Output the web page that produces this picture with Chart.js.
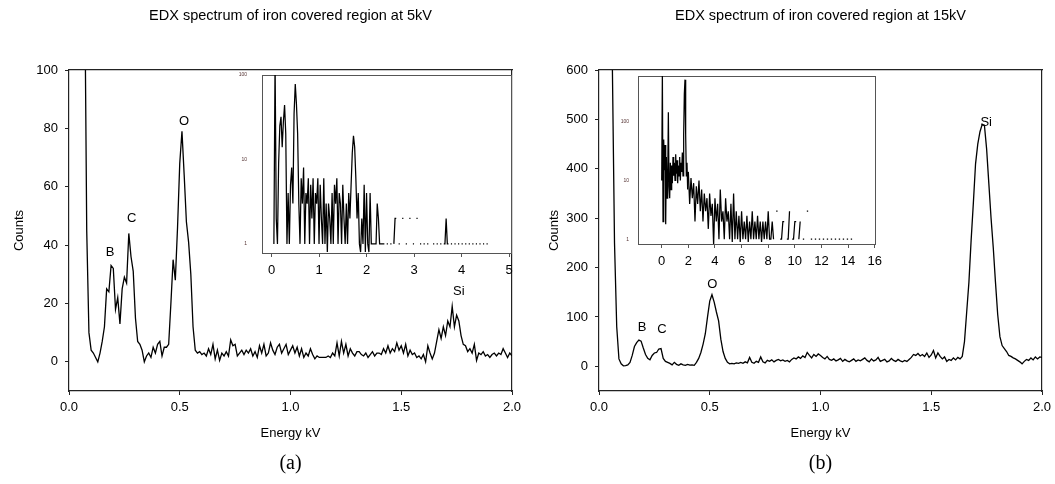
<!DOCTYPE html>
<html>
<head>
<meta charset="utf-8">
<script src="https://cdn.jsdelivr.net/npm/chart.js@4.4.1/dist/chart.umd.min.js"></script>
<style>
  html, body { margin: 0; padding: 0; background: #fff; width: 1055px; height: 484px; overflow: hidden; }
  canvas { position: absolute; }
</style>
</head>
<body>
<canvas id="mainA" width="581" height="484" style="left:0;top:0"></canvas>
<canvas id="mainB" width="581" height="484" style="left:530px;top:0"></canvas>
<canvas id="insetA" width="300" height="215" style="left:225px;top:70px"></canvas>
<canvas id="insetB" width="294" height="205" style="left:596px;top:70px"></canvas>
<script>
// energy grid of the main spectra (keV)
var mainStep = 0.01

// counts, 5 kV, 0.00 .. 2.00 keV
var countsA = [
  950, 900, 820, 700, 560, 420, 300, 140, 45, 10,
  4, 3, 1.5, 0, 3, 7, 12, 25, 24, 33,
  32, 18, 22, 13, 25, 29, 27, 44, 36, 31,
  15, 7, 6, 4, 0, 2, 3, 1.5, 5, 3,
  6, 7, 2, 5, 5, 6, 20, 35, 28, 46,
  68, 79, 64, 48, 41, 30, 12, 4, 3, 3.5,
  2.5, 3, 2, 4.5, 2.5, 6, 1, 4, 0.5, 3,
  2, 3.5, 2, 7.5, 5.5, 6, 2, 3, 4, 2.5,
  4, 3, 4.5, 2, 3.5, 1.5, 5.5, 3, 6, 2,
  3, 6.5, 4, 2.5, 5, 6, 3, 4.5, 6, 2.5,
  4, 5.5, 3, 5, 2, 4.5, 1.5, 3, 2, 4.5,
  2.5, 1, 2, 1.5, 1.5, 1.5, 1.5, 2, 1.5, 3,
  2, 6.5, 2, 7, 3, 6, 2, 4.5, 3, 2,
  3.5, 3.5, 2.5, 2, 3, 1.5, 2.5, 3.5, 2, 3,
  3, 2.5, 4.5, 3, 5.5, 3, 4.5, 3.5, 6.5, 4,
  5.5, 3, 6, 2, 4, 2.5, 3, 1.5, 2, 1,
  2.5, 0, 5.5, 3, 1, 3, 7, 11, 8, 12,
  9, 14, 12, 19, 12, 16, 14, 9, 6, 5.5,
  3.5, 4.5, 3, 6, 0.5, 3, 2.5, 3.5, 2, 2.5,
  1.5, 2.5, 3, 2, 3, 2.5, 4.5, 3, 1.5, 3, 2
]

// counts, 15 kV, 0.00 .. 2.00 keV
var countsB = [
  3000, 2800, 2500, 2100, 1600, 1100, 620, 250, 80, 15,
  5, 1, 1.5, 3, 8, 22, 40, 48, 53, 51,
  37, 24, 16, 13, 22, 27, 28, 35, 36, 16,
  10, 8, 6, 3, 8, 4, 2, 5, 3, 2,
  4, 2.5, 3, 2, 8, 16, 28, 45, 66, 100,
  132, 145, 130, 110, 92, 55, 30, 16, 8, 5,
  6, 5, 7, 6, 8, 6, 9, 7, 18, 8,
  6, 10, 8, 19, 9, 7, 12, 10, 13, 9,
  12, 14, 11, 13, 10, 12, 9, 14, 17, 15,
  19, 16, 21, 18, 28, 22, 17, 24, 20, 25,
  22, 18, 15, 20, 14, 12, 15, 11, 13, 16,
  10, 14, 11, 9, 12, 15, 10, 13, 11, 14,
  17, 12, 9, 15, 11, 13, 18, 10, 12, 14,
  9, 11, 16, 12, 10, 14, 11, 9, 12, 10,
  14, 18, 24, 22, 26, 21, 24, 20, 27, 18,
  23, 32, 17, 27, 20, 15, 19, 10, 14, 12,
  17, 13, 18, 15, 20, 50, 110, 170, 255, 330,
  410, 450, 475, 490, 488, 440, 370, 300, 240, 170,
  105, 60, 42, 36, 30, 22, 20, 17, 15, 12,
  9, 5, 10, 14, 12, 17, 13, 19, 15, 19, 18
]

// inset 5 kV, log counts, 0 .. 4.6 keV step 0.025 (null = no counts)
var insetStepA = 0.025
var insetCountsA = [
  null, null, 1, 150, 2, 1, 9, 25, 32, 14,
  28, 44, 20, 1, 4, 1, 5, 8, 3, 35,
  78, 45, 20, 3, 1, 6, 3, 8, 1, 4,
  3, 6, 1, 5, 2, 6, 1, 4, 3, 6,
  1, 5, 2, 1, 6, 1, 3, 0.8, 3, 2,
  1, 4, 1, 5, 3, 6, 1, 4, 3, 1,
  5, 2, 1, 3, 1, 4, 2, 5, 12, 19,
  14, 6, 2, 4, 1, 0.8, 2, 1, 5, 0.8,
  4, 1, 0.8, 4, 1, 1, 1, 1, 1, 3,
  2, 1, 1, 1, 1, 1, null, 1, 1, null,
  1, 1, null, 1, 2, 2, null, 1, 1, null,
  2, 2, null, 1, 1, null, 2, 2, null, 1,
  1, null, 2, 2, null, 1, 1, null, 1, 1,
  null, 1, 1, null, 1, null, 1, 1, null, 1,
  1, null, 1, 1, null, 1, 1, 2, 1, 1,
  null, 1, 1, null, 1, 1, null, 1, 1, null,
  1, 1, null, 1, 1, null, 1, 1, null, 1,
  1, null, 1, 1, null, 1, 1, null, 1, 1,
  null, 1, 1, null, 1
]

// inset 15 kV, 0 .. 2 keV step 0.05, then 2 .. 14.4 keV step 0.1
var insetStepB1 = 0.05
var insetCountsB1 = [
  10, 700, 2, 50, 15, 40, 1.8, 25, 5, 9,
  145, 8, 5, 20, 7, 18, 9, 25, 12, 20,
  10, 28, 13, 22, 9, 18, 12, 25, 10, 20,
  14, 30, 12, 60, 300, 520, 60, 12, 20, 7,
  14
]
var insetStartB2 = 2.0
var insetStepB2 = 0.1
var insetCountsB2 = [
  14, 4, 11, 5, 9, 2, 8, 4, 10, 3,
  7, 2, 6, 3, 5, 1.5, 6, 2.5, 4, 0.8,
  5, 2, 4, 1, 7, 2, 3, 1, 5, 2,
  3, 1, 4, 0.9, 6, 1, 3, 1, 2.5, 0.9,
  3, 1, 2, 1, 2.5, 0.9, 2, 1, 3, 1,
  2, 1, 2.5, 1, 2, 0.9, 2, 1, 2, 1,
  3, 1, 1, 2, 1, null, 3, 3, null, 1,
  1, 2, 2, null, 1, 1, 3, null, 1, 1,
  2, 2, null, 1, 2, null, 1, 1, null, 3,
  3, null, 1, 1, null, 1, 1, null, 1, 1,
  null, 1, 1, null, 1, 1, null, 1, 1, null,
  1, 1, null, 1, 1, null, 1, 1, null, 1,
  1, null, 1, 1, null
]

// peak labels (energy keV, counts where the letter sits)
var peakNamesA = ['B', 'C', 'O', 'Si']
var peakEnergyA = [0.185, 0.283, 0.519, 1.76]
var peakCountsA = [37.5, 49, 82.5, 24.2]
var peakNamesB = ['B', 'C', 'O', 'Si']
var peakEnergyB = [0.194, 0.284, 0.512, 1.748]
var peakCountsB = [79, 75, 165, 494]

var mainTicksX = [0, 0.5, 1, 1.5, 2]
var insetLogTicks = [1, 10, 100]

Chart.defaults.font.family = "'Liberation Sans', Arial, sans-serif"
Chart.defaults.color = '#000'
Chart.defaults.animation = false

function toPoints(values, start, step) {
  return values.map(function (v, i) { return { x: start + i * step, y: v } })
}

var peakText = {
  id: 'peakText',
  afterDatasetsDraw: function (chart, args, opts) {
    var ctx = chart.ctx
    var x = chart.scales.x
    var y = chart.scales.y
    ctx.save()
    ctx.font = "13px 'Liberation Sans', Arial, sans-serif"
    ctx.fillStyle = '#000'
    ctx.textAlign = 'center'
    ctx.textBaseline = 'middle'
    opts.names.forEach(function (n, i) {
      ctx.fillText(n, x.getPixelForValue(opts.energy[i]), y.getPixelForValue(opts.counts[i]))
    })
    ctx.restore()
  }
}

function frameAxes(color, width, topH, rightW) {
  return {
    xTop: {
      type: 'linear', position: 'top', display: true,
      grid: { display: false }, ticks: { display: false },
      border: { color: color, width: width },
      afterFit: function (s) { s.height = topH }
    },
    yRight: {
      type: 'linear', position: 'right', display: true,
      grid: { display: false }, ticks: { display: false },
      border: { color: color, width: width },
      afterFit: function (s) { s.width = rightW }
    }
  }
}

function mainChart(id, values, title, sub, yMin, yMax, yStep, titlePad, names, energy, counts) {
  var scales = frameAxes('#222', 1.2, 0, 69)
  scales.x = {
    type: 'linear', position: 'bottom', min: 0, max: 2,
    afterBuildTicks: function (s) { s.ticks = mainTicksX.map(function (v) { return { value: v } }) },
    ticks: { padding: 5, font: { size: 13 }, callback: function (v) { return v.toFixed(1) } },
    grid: { drawOnChartArea: false, tickLength: 4, color: '#222' },
    border: { color: '#222', width: 1.2 },
    title: { display: true, text: 'Energy kV', font: { size: 13 }, padding: { top: 0, bottom: 3 } },
    afterFit: function (s) { s.height = 53 }
  }
  scales.y = {
    type: 'linear', position: 'left', min: yMin, max: yMax,
    ticks: { stepSize: yStep, includeBounds: false, padding: 7, font: { size: 13 } },
    grid: { drawOnChartArea: false, tickLength: 4, color: '#222' },
    border: { color: '#222', width: 1.2 },
    title: { display: true, text: 'Counts', font: { size: 13 }, padding: { top: titlePad, bottom: 0 } },
    afterFit: function (s) { s.width = 69 }
  }
  return new Chart(document.getElementById(id), {
    type: 'line',
    data: {
      datasets: [{
        data: toPoints(values, 0, mainStep),
        xAxisID: 'x', yAxisID: 'y',
        borderColor: '#000', borderWidth: 1.3, pointRadius: 0, tension: 0
      }]
    },
    options: {
      responsive: false,
      devicePixelRatio: 1,
      layout: { padding: 0 },
      scales: scales,
      plugins: {
        legend: { display: false },
        tooltip: { enabled: false },
        title: { display: true, text: title, font: { size: 14.5, weight: 'normal' }, padding: { top: 7, bottom: 45.6 } },
        subtitle: { display: true, position: 'bottom', text: sub, font: { family: "'Liberation Serif', serif", size: 20 }, padding: { top: 8, bottom: 8 } },
        peakText: { names: names, energy: energy, counts: counts }
      }
    },
    plugins: [peakText]
  })
}

function insetChart(id, datasets, xMin, xMax, xStep, yMin, yMax, yWidth, yGap, xHeight, topH, rightW) {
  var scales = frameAxes('#555', 1, topH, rightW)
  scales.x = {
    type: 'linear', position: 'bottom', min: xMin, max: xMax,
    ticks: { stepSize: xStep, includeBounds: false, padding: 6, font: { size: 13 } },
    grid: { drawOnChartArea: false, tickLength: 4, color: '#555' },
    border: { color: '#555', width: 1 },
    afterFit: function (s) { s.height = xHeight }
  }
  // log axis: labels only at the decades, offset by an invisible tick length
  scales.y = {
    type: 'logarithmic', position: 'left', min: yMin, max: yMax,
    ticks: {
      autoSkip: false, padding: 0, font: { size: 5 }, color: '#533',
      callback: function (v) { return insetLogTicks.indexOf(v) >= 0 ? String(v) : '' }
    },
    grid: { drawOnChartArea: false, tickLength: yGap, tickColor: 'rgba(0,0,0,0)' },
    border: { color: '#555', width: 1 },
    afterFit: function (s) { s.width = yWidth }
  }
  return new Chart(document.getElementById(id), {
    type: 'line',
    data: { datasets: datasets },
    options: {
      responsive: false,
      devicePixelRatio: 1,
      layout: { padding: 0 },
      scales: scales,
      plugins: { legend: { display: false }, tooltip: { enabled: false } }
    }
  })
}

function insetSet(points) {
  return { data: points, xAxisID: 'x', yAxisID: 'y', borderColor: '#000', borderWidth: 1.25, pointRadius: 0, tension: 0, spanGaps: false }
}

mainChart('mainA', countsA, 'EDX spectrum of iron covered region at 5kV', '(a)', -10, 100, 20, 11.2,
  peakNamesA, peakEnergyA, peakCountsA)
mainChart('mainB', countsB, 'EDX spectrum of iron covered region at 15kV', '(b)', -50, 600, 100, 16.7,
  peakNamesB, peakEnergyB, peakCountsB)

insetChart('insetA', [insetSet(toPoints(insetCountsA, 0, insetStepA))],
  -0.2, 5.04, 1, 0.78, 100, 37, 15, 32, 5, 14)
insetChart('insetB', [
  insetSet(toPoints(insetCountsB1, 0, insetStepB1)),
  insetSet(toPoints(insetCountsB2, insetStartB2, insetStepB2))
], -1.78, 16.02, 2, 0.83, 600, 42, 9, 31, 6, 15)
</script>
</body>
</html>
